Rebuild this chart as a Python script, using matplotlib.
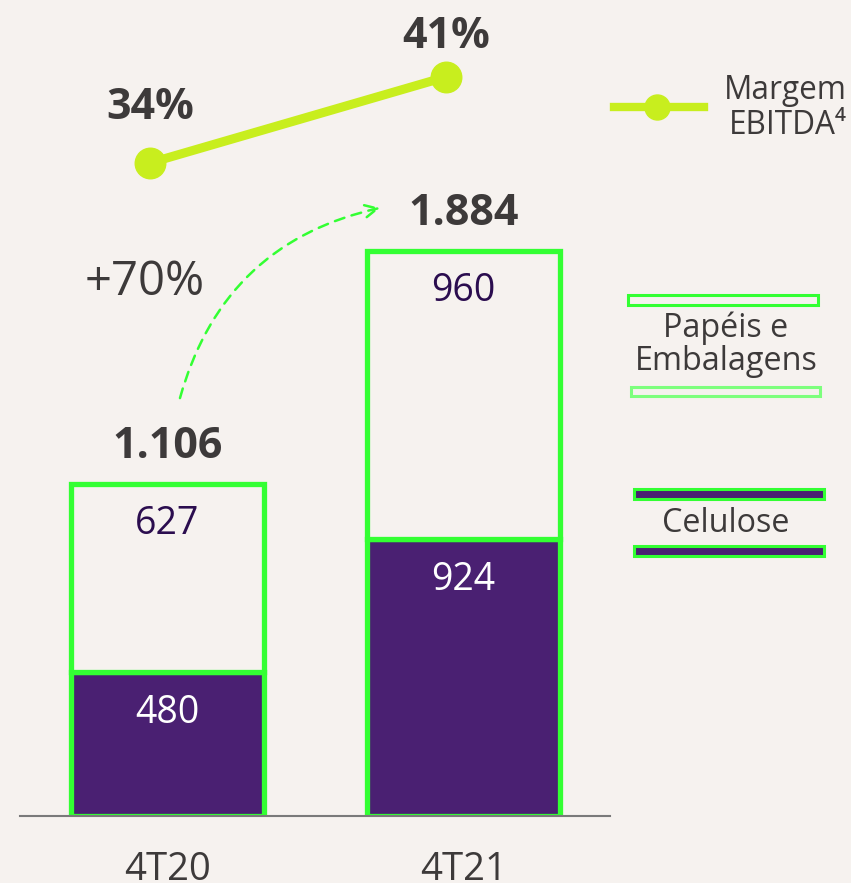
import matplotlib.pyplot as plt
from matplotlib.patches import Rectangle

# dados
periodos = ["4T20", "4T21"]
celulose = [480, 924]
papeis = [627, 960]
totais = ["1.106", "1.884"]
margem = [34, 41]
crescimento = "+70%"

fundo = "#f6f2ef"
verde = "#33ff33"
verde_claro = "#7dff7d"
roxo = "#4a2072"
roxo_escuro = "#2b0d4f"
lima = "#c8ee1e"
cinza = "#3d3a3a"

plt.rcParams["font.family"] = ["Open Sans", "DejaVu Sans"]

W, H = 851, 883
fig = plt.figure(figsize=(W / 100, H / 100), dpi=100, facecolor=fundo)
ax = fig.add_axes([0, 67 / H, 1, 816 / H])
ax.set_facecolor("none")
ax.set_xlim(-0.566, 2.309)
ax.set_ylim(0, 2720)

x = list(range(len(periodos)))
largura = 0.655
ax.bar(x, celulose, width=largura, color=roxo, edgecolor=verde, linewidth=3.8, zorder=3)
ax.bar(x, papeis, bottom=celulose, width=largura, color=fundo, edgecolor=verde,
       linewidth=3.8, zorder=3)

for i in x:
    topo = celulose[i] + papeis[i]
    ax.annotate(totais[i], (i, topo), xytext=(0, 27), textcoords="offset points",
                ha="center", va="center", fontsize=31, fontweight="bold", color=cinza)
    ax.annotate(str(papeis[i]), (i, topo), xytext=(0, -29), textcoords="offset points",
                ha="center", va="center", fontsize=27, color=roxo_escuro)
    ax.annotate(str(celulose[i]), (i, celulose[i]), xytext=(0, -29.5),
                textcoords="offset points", ha="center", va="center", fontsize=27,
                color="white")

# linha de base
ax.plot([-0.498, 1.495], [0, 0], color="#7a7a7a", lw=1.5, zorder=4, clip_on=False)

for s in ax.spines.values():
    s.set_visible(False)
ax.set_yticks([])
ax.set_xticks(x, periodos)
ax.tick_params(axis="x", length=0, pad=25, labelsize=27.5, labelcolor=cinza)

# seta de crescimento
ax.annotate("", xy=(0.718, 2027), xytext=(0.042, 1393),
            arrowprops=dict(arrowstyle="->", color=verde, lw=1.8, ls=(0, (4, 3)),
                            connectionstyle="arc3,rad=-0.3", mutation_scale=22,
                            shrinkA=0, shrinkB=0))
ax.text(-0.077, 1780, crescimento, ha="center", va="center", fontsize=34, color=cinza)

# margem EBITDA
ax2 = ax.twinx()
ax2.set_ylim(-19.13, 47.26)
ax2.axis("off")
xm = [i - 0.06 for i in x]
ax2.plot(xm, margem, color=lima, lw=6.5, marker="o", markersize=22, zorder=5)
for i, off in zip(x, [40, 29]):
    ax2.annotate(f"{margem[i]}%", (xm[i], margem[i]), xytext=(0, off),
                 textcoords="offset points", ha="center", va="center", fontsize=31,
                 fontweight="bold", color=cinza)

# legenda
tf = fig.transFigure
fig.lines.append(plt.Line2D([614 / W, 704 / W], [1 - 107 / H, 1 - 107 / H],
                            transform=tf, color=lima, lw=6))
fig.lines.append(plt.Line2D([657 / W], [1 - 107 / H], transform=tf, color=lima,
                            marker="o", markersize=18))
fig.text(785 / W, 1 - 108 / H, "Margem\nEBITDA⁴", ha="center", va="center",
         fontsize=22.7, color=cinza, linespacing=1.1, multialignment="right")

for (x0, y0, x1, y1, fc, ec) in [
    (628, 295, 818, 305, fundo, verde),
    (631, 387, 820, 396, fundo, verde_claro),
    (634, 489, 824, 499, roxo, verde),
    (634, 546, 824, 556, roxo, verde),
]:
    fig.patches.append(Rectangle((x0 / W, 1 - y1 / H), (x1 - x0) / W, (y1 - y0) / H,
                                 transform=tf, facecolor=fc, edgecolor=ec, lw=2.2))
fig.text(726 / W, 1 - 345 / H, "Papéis e\nEmbalagens", ha="center", va="center",
         fontsize=23.3, color=cinza, linespacing=1.0)
fig.text(726 / W, 1 - 523 / H, "Celulose", ha="center", va="center",
         fontsize=23.3, color=cinza)

fig.savefig("out.png", dpi=100, facecolor=fundo)
